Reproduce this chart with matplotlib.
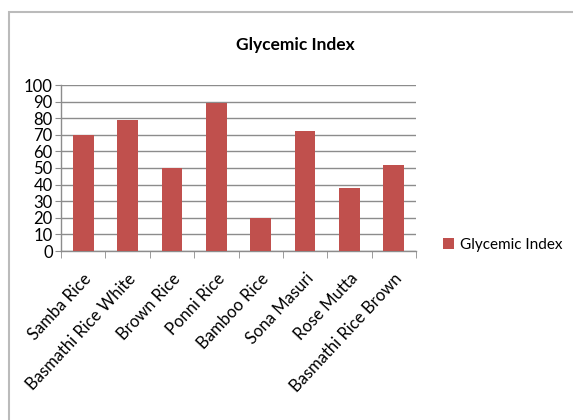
import matplotlib
matplotlib.use("Agg")
import matplotlib.pyplot as plt
from matplotlib.patches import Rectangle
from matplotlib.transforms import ScaledTranslation

categories = ["Samba Rice", "Basmathi Rice White", "Brown Rice", "Ponni Rice",
              "Bamboo Rice", "Sona Masuri", "Rose Mutta", "Basmathi Rice Brown"]
values = [70, 79, 50, 89, 20, 72, 38, 52]
yticks = list(range(0, 101, 10))
series_name = "Glycemic Index"

plt.rcParams['font.family'] = ["Lato", "DejaVu Sans"]

fig = plt.figure(figsize=(5.73, 4.2), dpi=100)
ax = fig.add_axes([61/573, 1-251/420, (416-61)/573, (251-85)/420])

bar_color = "#C0504D"
x = list(range(len(categories)))
bars = ax.bar(x, values, width=0.47, color=bar_color, zorder=3, label=series_name)

ax.set_xlim(-0.5, len(categories) - 0.5)
ax.set_ylim(0, 100)
ax.set_yticks(yticks)
ax.set_yticklabels([str(t) for t in yticks], fontsize=12)
ax.yaxis.grid(True, color="#8C8C8C", linewidth=1.0, zorder=0)
ax.set_axisbelow(True)

ax.set_xticks(x)
ax.set_xticklabels(categories, rotation=47, ha="right", va="top",
                   rotation_mode="anchor", fontsize=12)
offset = ScaledTranslation(5/100, 0, fig.dpi_scale_trans)
for lab in ax.get_xticklabels():
    lab.set_transform(lab.get_transform() + offset)
ax.tick_params(axis="x", which="major", length=0, pad=14)
ax.set_xticks([i - 0.5 for i in range(len(categories) + 1)], minor=True)
ax.tick_params(axis="x", which="minor", length=5, color="#8C8C8C", direction="out")
ax.tick_params(axis="y", length=4, color="#8C8C8C", direction="out", pad=2)

for s in ["top", "right"]:
    ax.spines[s].set_visible(False)
for s in ["left", "bottom"]:
    ax.spines[s].set_color("#8C8C8C")
    ax.spines[s].set_linewidth(1.0)

fig.text(295/573, 1-45/420, series_name, ha="center", va="center",
         fontsize=12.5, fontweight="bold")

leg = fig.legend(handles=[bars], labels=[series_name], loc="center left",
                 bbox_to_anchor=(429/573, 1-245/420), frameon=False,
                 fontsize=11, handlelength=0.75, handleheight=0.75, handletextpad=0.4)

fig.patches.append(Rectangle((9/573, -0.1), 1.2, (420-12)/420 + 0.1,
                             transform=fig.transFigure, fill=False,
                             edgecolor="#BBBBBB", linewidth=1.5))

fig.savefig("out.png", dpi=100)
